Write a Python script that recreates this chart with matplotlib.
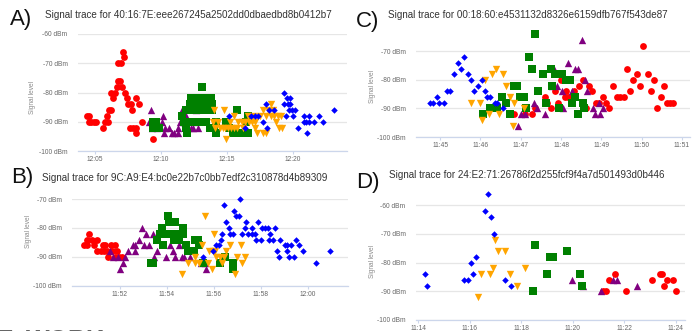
import matplotlib
matplotlib.use('Agg')
import matplotlib.pyplot as plt
from matplotlib.ticker import FixedLocator, FuncFormatter

plt.rcParams['font.family'] = ['Liberation Sans', 'DejaVu Sans']

# ---------------- data (minutes after the hour; dBm) ----------------
# Panel A (12:xx)
a_red_t = [4.38,4.55,4.5,4.7,4.88,5.05,5.58,5.75,5.95,5.93,6.05,6.2,6.33,6.2,6.5,6.63,6.7,6.88,6.75,6.95,7.2,7.1,7.0,7.25,7.38,7.5,7.75,7.8,8.13,8.33,7.63,7.88,8.13,8.08,8.58,9.38]
a_red_v = [-88,-88,-90,-90,-90,-90,-92,-90,-90,-88,-86,-86,-82,-80,-80,-78,-76,-76,-70,-70,-68,-66,-78,-80,-82,-84,-84,-86,-82,-84,-92,-92,-92,-94,-90,-96]
a_pur_t = [9.05,9.25,9.3,9.5,9.7,10.08,10.13,10.25,10.33,10.6,10.8,11.0,11.25,11.25,11.45,11.55,11.7,11.75,11.9,12.0,12.25,12.45,12.55,12.63,12.83]
a_pur_v = [-90,-86,-92,-90,-92,-90,-88,-94,-92,-92,-94,-94,-94,-92,-90,-86,-86,-90,-88,-92,-92,-92,-90,-86,-92]
a_grn_t = [9.35,9.6,9.35,9.6,9.85,11.6,11.9,11.75,12.0,11.9,11.95,12.25,12.45,12.7,12.95,13.15,13.55,13.8,12.2,12.5,12.75,13.0,13.3,12.3,12.6,12.85,13.15,13.4,13.1,12.6,12.95,13.43,13.68,14.05,14.18,14.2,14.93,15.18,15.45,15.75,16.0,16.33,16.58,15.75,16.58,16.45,13.6,13.85,13.65,13.9]
a_grn_v = [-90,-90,-92,-92,-92,-88,-86,-90,-90,-92,-94,-82,-82,-82,-82,-82,-82,-82,-84,-84,-84,-84,-84,-86,-86,-86,-86,-86,-78,-90,-90,-90,-92,-92,-90,-94,-90,-92,-94,-94,-94,-94,-94,-86,-88,-90,-84,-84,-86,-86]
a_org_t = [13.94,14.07,14.32,14.45,14.77,14.7,14.87,14.95,15.07,15.28,15.5,15.5,15.76,15.8,16.1,16.4,16.6,16.66,16.95,17.13,17.3,17.7,17.72,17.95,17.97,18.35,18.35,18.47,18.6,18.73,18.85,18.98,19.1,19.15,14.0,15.2,16.2,16.9,17.5,18.1,17.1]
a_org_v = [-90,-92,-90,-92,-86,-92,-92,-96,-92,-92,-92,-88,-92,-90,-90,-90,-88,-90,-88,-92,-94,-94,-86,-94,-88,-84,-88,-86,-88,-90,-88,-92,-88,-92,-86,-90,-92,-90,-88,-86,-90]
a_blu_t = [15.13,16.39,16.84,17.09,17.34,17.72,17.97,18.05,18.22,18.55,19.36,19.3,19.55,19.8,19.6,19.8,19.67,19.9,20.16,19.48,19.99,20.37,20.82,21.0,21.25,20.87,21.25,21.07,21.62,22.0,22.25,23.09]
a_blu_v = [-88,-92,-88,-88,-88,-90,-84,-92,-86,-86,-80,-84,-82,-82,-84,-84,-86,-86,-86,-88,-88,-92,-90,-90,-90,-88,-88,-94,-90,-88,-90,-86]

# Panel B (11:xx)
b_red_t = [50.47,50.58,50.7,50.58,50.82,51.04,50.9,51.04,51.18,51.26,51.36,51.3,51.45,51.48,51.6,51.79,51.65,51.86,51.79,51.97,52.07]
b_red_v = [-86,-86,-82,-84,-84,-84,-86,-88,-88,-86,-86,-88,-88,-90,-86,-86,-88,-88,-90,-90,-90]
b_pur_t = [51.58,51.72,51.93,52.0,52.11,52.2,52.33,52.57,52.64,52.82,52.92,53.1,53.02,53.25,52.64,53.39,53.44,53.56,53.74,53.95,54.12,54.26,54.34,54.5,54.62,54.73,54.96,55.6,55.68,55.45]
b_pur_v = [-88,-90,-90,-94,-92,-90,-88,-86,-86,-84,-80,-82,-86,-86,-88,-82,-90,-88,-80,-90,-86,-88,-90,-86,-90,-90,-90,-92,-94,-92]
b_grn_t = [53.3,53.42,53.7,53.9,53.77,53.58,54.03,54.1,54.35,53.85,54.2,54.3,54.5,54.45,54.67,54.67,54.83,54.9,55.04,55.13,55.18,55.32,55.35,55.55,56.25,56.47,56.8,56.82]
b_grn_v = [-92,-92,-82,-82,-80,-84,-76,-78,-78,-86,-82,-84,-84,-82,-82,-80,-86,-88,-88,-88,-84,-84,-86,-92,-92,-90,-94,-92]
b_org_t = [54.65,54.9,55.18,55.37,55.2,55.5,55.61,55.75,55.9,55.95,56.0,56.04,56.25,56.32,56.42,56.5,56.67,56.89,56.99,57.13,57.21,57.31,55.8,56.1]
b_org_v = [-96,-92,-92,-92,-90,-86,-76,-92,-94,-88,-82,-88,-90,-92,-90,-88,-86,-96,-90,-86,-92,-90,-88,-90]
b_blu_t = [55.54,55.96,56.1,56.2,56.28,56.36,56.42,56.53,56.63,56.7,56.82,56.86,56.93,57.07,57.1,57.21,57.31,57.38,57.45,57.6,57.6,57.74,57.78,57.88,58.02,58.06,58.16,58.3,58.35,58.37,58.52,58.58,58.66,58.77,58.8,59.0,59.11,59.11,59.2,59.29,59.4,59.48,59.62,59.79,60.36,60.95]
b_blu_v = [-90,-88,-86,-86,-84,-82,-72,-78,-80,-82,-82,-74,-76,-76,-70,-82,-80,-78,-82,-80,-82,-82,-84,-78,-84,-80,-80,-80,-84,-82,-84,-80,-88,-90,-84,-86,-86,-88,-90,-86,-90,-84,-86,-88,-92,-88]

# Panel C (11:xx)
c_blu_t = [44.74,44.82,44.92,44.98,45.1,45.17,45.25,45.35,45.43,45.52,45.6,45.68,45.77,45.84,45.93,46.03,46.12,46.17,46.24,46.36,46.42,46.57]
c_blu_v = [-88,-88,-86,-88,-88,-84,-84,-78,-74,-76,-72,-78,-80,-84,-82,-80,-84,-86,-86,-88,-88,-90]
c_org_t = [45.77,45.98,46.05,46.12,46.22,46.28,46.38,46.45,46.55,46.64,46.74,46.83,46.8,47.07]
c_org_v = [-88,-88,-94,-80,-92,-78,-76,-92,-78,-82,-86,-88,-96,-90]
c_grn_t = [46.06,46.24,46.34,46.42,46.53,46.64,46.74,46.82,46.9,46.98,47.07,47.13,47.21,47.27,47.36,47.44,47.55,47.63,47.74,47.85,47.77,47.95,48.02,48.12,48.22,48.27,48.35,48.43,48.55,48.57]
c_grn_v = [-92,-90,-90,-90,-86,-88,-92,-82,-82,-86,-86,-90,-72,-76,-64,-84,-78,-88,-76,-78,-82,-90,-78,-80,-80,-88,-86,-92,-88,-90]
c_pur_t = [46.93,47.0,47.1,47.33,47.4,47.6,47.77,47.83,47.91,48.03,48.06,48.18,48.27,48.35,48.43,48.53,48.6,48.65,48.79,48.84,48.93,48.97,49.05]
c_pur_v = [-96,-92,-92,-88,-90,-92,-82,-76,-82,-84,-90,-74,-84,-76,-76,-66,-80,-84,-90,-92,-88,-92,-90]
c_red_t = [46.82,47.11,47.27,47.36,47.6,47.64,47.74,47.85,47.93,48.0,48.1,48.12,48.18,48.32,48.44,48.54,48.62,48.7,48.78,48.87,48.93,49.03,49.12,49.2,49.3,49.38,49.46,49.55,49.63,49.71,49.79,49.88,49.96,50.04,50.15,50.22,50.3,50.39,50.47,50.55,50.62,50.7,50.79]
c_red_v = [-92,-92,-92,-90,-86,-88,-90,-84,-88,-80,-86,-84,-86,-84,-82,-80,-90,-82,-84,-88,-88,-86,-88,-90,-82,-86,-86,-86,-76,-84,-80,-78,-82,-68,-78,-84,-80,-90,-86,-82,-88,-88,-88]

# Panel D (11:xx)
d_blu_t = [14.25,14.35,15.77,15.94,16.03,16.13,16.24,16.59,16.69,16.82,16.94,17.38,17.58]
d_blu_v = [-84,-88,-86,-86,-80,-84,-78,-62,-56,-64,-70,-86,-88]
d_org_t = [16.33,16.43,16.78,16.88,16.98,17.09,17.36,17.56,17.82,18.13]
d_org_v = [-92,-84,-84,-82,-72,-76,-76,-84,-88,-82]
d_grn_t = [18.44,18.54,18.98,19.11,19.24,19.76,20.29,20.35]
d_grn_v = [-90,-74,-84,-78,-78,-76,-84,-88]
d_pur_t = [19.96,20.38,21.08,21.57,21.7,22.5]
d_pur_v = [-86,-88,-90,-86,-86,-88]
d_red_t = [21.18,21.28,21.41,21.65,22.06,23.06,23.38,23.46,23.55,23.66,23.87,23.99]
d_red_v = [-90,-90,-86,-84,-90,-86,-84,-84,-88,-86,-86,-90]

titles = ["Signal trace for 40:16:7E:eee267245a2502dd0dbaedbd8b0412b7",
          "Signal trace for 9C:A9:E4:bc0e22b7c0bb7edf2c310878d4b89309",
          "Signal trace for 00:18:60:e4531132d8326e6159dfb767f543de87",
          "Signal trace for 24:E2:71:26786f2d255fcf9f4a7d501493d0b446"]
letters = ["A)", "B)", "C)", "D)"]
a_xticks = [5, 10, 15, 20]
b_xticks = [52, 54, 56, 58, 60]
c_xticks = [45, 46, 47, 48, 49, 50, 51]
d_xticks = [14, 16, 18, 20, 22, 24]

# ---------------- drawing ----------------
W, H = 697, 331
fig = plt.figure(figsize=(W/100, H/100), dpi=100)

STY = {'red': ('#ff0000', 'o', 24), 'pur': ('#800080', '^', 28),
       'grn': ('#008000', 's', 26), 'org': ('#ffa500', 'v', 28),
       'blu': ('#0000ff', 'D', 11)}


def panel(box, xlim, ylim, yticks, xticks, hour, series, title, title_xy,
          letter, letter_xy, ylab_xy):
    l, t, r, b = box
    ax = fig.add_axes([l/W, 1-b/H, (r-l)/W, (b-t)/H])
    for key, ts, vs in series:
        col, mk, s = STY[key]
        ax.scatter(ts, vs, c=col, marker=mk, s=s, linewidths=0, zorder=3,
                   clip_on=False)
    ax.set_xlim(*xlim)
    ax.set_ylim(*ylim)
    ax.yaxis.set_major_locator(FixedLocator(yticks))
    ax.xaxis.set_major_locator(FixedLocator(xticks))
    ax.yaxis.set_major_formatter(FuncFormatter(lambda v, p: f"{int(round(v))} dBm"))
    ax.xaxis.set_major_formatter(FuncFormatter(
        lambda v, p: f"{hour + int(round(v))//60}:{int(round(v)) % 60:02d}"))
    ax.grid(axis='y', color='#e6e6e6', lw=0.9)
    ax.set_axisbelow(True)
    for sp in ('top', 'left', 'right'):
        ax.spines[sp].set_visible(False)
    ax.spines['bottom'].set_color('#ccd6eb')
    ax.spines['bottom'].set_linewidth(0.9)
    ax.tick_params(axis='x', length=2.5, width=0.8, color='#ccd6eb',
                   labelsize=4.8, labelcolor='#666666', pad=1.2)
    ax.tick_params(axis='y', length=0, labelsize=4.8, labelcolor='#666666', pad=7.5)
    fig.text(title_xy[0]/W, 1-title_xy[1]/H, title, fontsize=7.1, color='#333333',
             ha='left', va='center')
    fig.text(letter_xy[0]/W, 1-letter_xy[1]/H, letter, fontsize=16, color='#111111',
             ha='left', va='center')
    fig.text(ylab_xy[0]/W, 1-ylab_xy[1]/H, "Signal level", fontsize=4.7,
             color='#8a8a8a', rotation=90, ha='center', va='center')
    return ax


panel((78, 34, 347, 151), (3.7, 24.1), (-100, -60), [-100, -90, -80, -70, -60],
      a_xticks, 12,
      [('red', a_red_t, a_red_v), ('pur', a_pur_t, a_pur_v), ('grn', a_grn_t, a_grn_v),
       ('org', a_org_t, a_org_v), ('blu', a_blu_t, a_blu_v)],
      titles[0], (45, 15), letters[0], (10, 20), (33, 97))

panel((72, 199, 348, 286), (49.96, 61.7), (-100, -70), [-100, -90, -80, -70],
      b_xticks, 11,
      [('red', b_red_t, b_red_v), ('pur', b_pur_t, b_pur_v), ('grn', b_grn_t, b_grn_v),
       ('org', b_org_t, b_org_v), ('blu', b_blu_t, b_blu_v)],
      titles[1], (42, 178), letters[1], (11, 178), (29, 231))

panel((416, 30, 690, 137), (44.4, 51.2), (-100, -62.5), [-100, -90, -80, -70],
      c_xticks, 11,
      [('red', c_red_t, c_red_v), ('pur', c_pur_t, c_pur_v), ('grn', c_grn_t, c_grn_v),
       ('org', c_org_t, c_org_v), ('blu', c_blu_t, c_blu_v)],
      titles[2], (388, 15), letters[2], (356, 22), (373, 87))

panel((416, 188, 685, 320), (13.91, 24.35), (-100, -54), [-100, -90, -80, -70, -60],
      d_xticks, 11,
      [('red', d_red_t, d_red_v), ('pur', d_pur_t, d_pur_v), ('grn', d_grn_t, d_grn_v),
       ('org', d_org_t, d_org_v), ('blu', d_blu_t, d_blu_v)],
      titles[3], (389, 175), letters[3], (356, 183), (373, 262))

# partially visible large text at the bottom edge (cut off in the reference too)
fig.text(-4/W, -0.052, "E", fontsize=18, fontweight='bold', color='#666666',
         ha='left', va='baseline')
fig.text(26/W, -0.052, "WORK", fontsize=18, fontweight='bold', color='#666666',
         ha='left', va='baseline')

fig.savefig("out.png", dpi=100)
